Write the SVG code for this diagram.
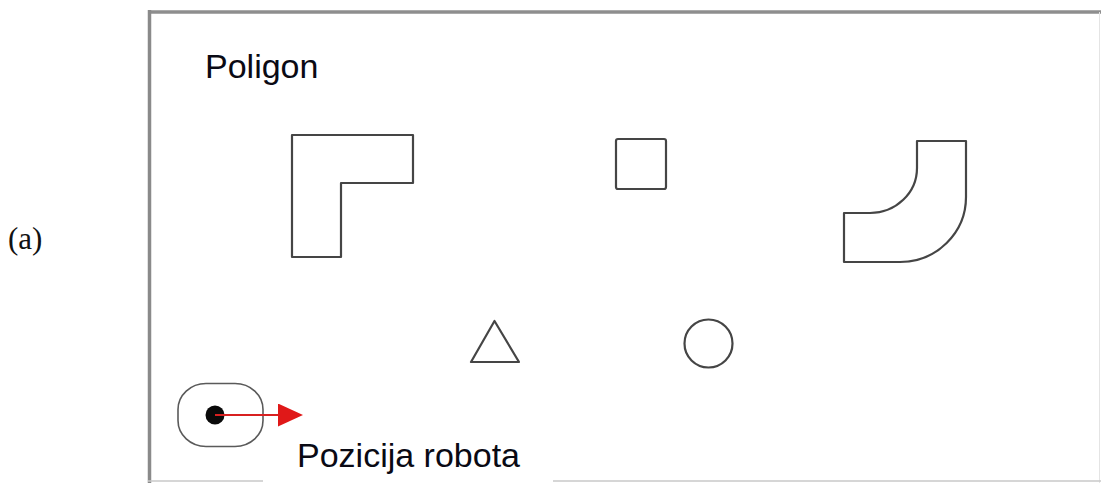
<svg xmlns="http://www.w3.org/2000/svg" width="1101" height="483" viewBox="0 0 1101 483">
<style>
.shape{fill:none;stroke:#454545;stroke-width:2.2;stroke-linejoin:round}
.lbl{font-family:"Liberation Sans",Arial,sans-serif;fill:#0a0a14}
</style>
<defs>
<marker id="arr" markerWidth="25" markerHeight="23" refX="0" refY="11.5" orient="auto" markerUnits="userSpaceOnUse" viewBox="0 0 25 23">
<path d="M0,0 L25,11.5 L0,23 Z" fill="#e01818"/>
</marker>
</defs>
<rect width="1101" height="483" fill="#ffffff"/>
<g id="frame">
<line x1="148" y1="12" x2="1101" y2="12" stroke="#8e8e8e" stroke-width="3.5"/>
<line x1="149.5" y1="10" x2="149.5" y2="483" stroke="#8a8a8a" stroke-width="3.5"/>
<line x1="1099.5" y1="12" x2="1099.5" y2="483" stroke="#e4e4e4" stroke-width="1"/>
<line x1="148" y1="481" x2="1101" y2="481" stroke="#c8c8c8" stroke-width="1.5"/>
</g>
<text id="fig-label" x="8" y="249" font-family="Liberation Serif,Times New Roman,serif" font-size="31" fill="#111">(a)</text>
<text id="title" class="lbl" x="205" y="78" font-size="34">Poligon</text>
<g id="l-shape"><path class="shape" d="M292,135 H413 V183 H341 V257 H292 Z"/></g>
<g id="square"><rect class="shape" x="616" y="139" width="50" height="50" rx="2" stroke="#555" stroke-width="2.6"/></g>
<g id="bend"><path class="shape" d="M917,141 H966 V197 A66,65 0 0 1 900,262 H844 V213 H870 A47,45 0 0 0 917,168 Z"/></g>
<g id="triangle"><path class="shape" d="M494.5,321 L471,362 L519,362 Z"/></g>
<g id="circle"><circle class="shape" cx="708.5" cy="343.5" r="24" stroke="#555"/></g>
<g id="robot">
<rect x="178" y="383.5" width="85" height="63" rx="28" ry="26" fill="none" stroke="#5a5a5a" stroke-width="1.6"/>
<circle cx="215" cy="415" r="9.5" fill="#0a0a0a"/>
</g>
<g id="connectors">
<line x1="215" y1="415" x2="278" y2="415" stroke="#d82020" stroke-width="2" marker-end="url(#arr)"/>
</g>
<g id="robot-label">
<rect x="263" y="437" width="290" height="46" fill="#ffffff"/>
<text class="lbl" x="297" y="467" font-size="34">Pozicija robota</text>
</g>
</svg>
